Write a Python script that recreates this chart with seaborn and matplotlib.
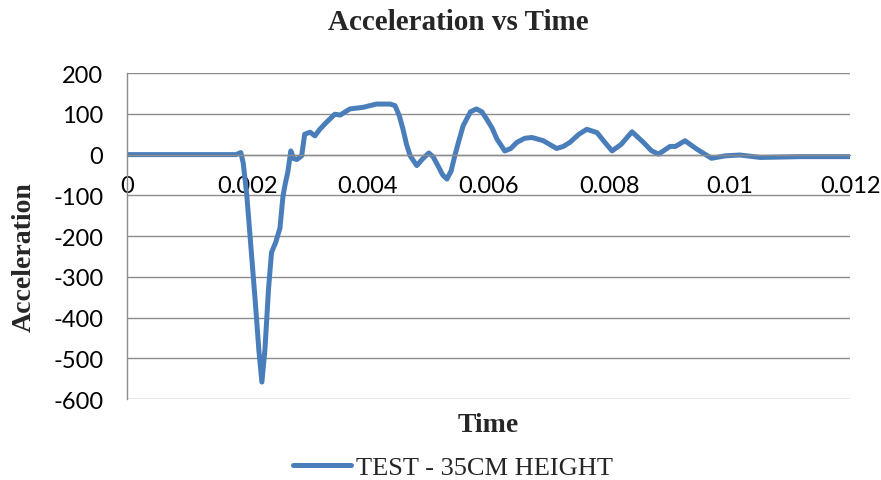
import pandas as pd
import seaborn as sns
import matplotlib.pyplot as plt

# readings taken off the chart
time = [0.0, 0.0010, 0.00175, 0.00181, 0.00186, 0.00189, 0.00193, 0.00199, 0.00206, 0.00213,
        0.00219, 0.00224, 0.00229, 0.00235, 0.00240, 0.00247, 0.00254, 0.00259, 0.00263, 0.00267,
        0.00272, 0.00277, 0.00282, 0.00290, 0.00295, 0.00304, 0.00312, 0.00320, 0.00331, 0.00345,
        0.00354, 0.00370, 0.00392, 0.00414, 0.00437, 0.00445, 0.00452, 0.00458, 0.00464, 0.00470,
        0.00481, 0.00491, 0.00501, 0.00508, 0.00516, 0.00524, 0.00531, 0.00538, 0.00544, 0.00551,
        0.00558, 0.00570, 0.00580, 0.00589, 0.00597, 0.00606, 0.00614, 0.00627, 0.00637, 0.00647,
        0.00660, 0.00672, 0.00691, 0.00713, 0.00724, 0.00735, 0.00750, 0.00763, 0.00780, 0.00793,
        0.00805, 0.00820, 0.00838, 0.00857, 0.00870, 0.00882, 0.00901, 0.00910, 0.00926, 0.00946,
        0.00970, 0.00993, 0.01017, 0.01051, 0.01117, 0.01200]
accel = [0, 0, 0, 0, 3, 5, -20, -100, -230, -360,
         -480, -558, -480, -330, -240, -215, -180, -102, -70, -43,
         9, -10, -12, -3, 50, 55, 46, 62, 79, 99,
         97, 112, 116, 124, 124, 120, 95, 63, 25, -3,
         -27, -10, 4, -5, -27, -50, -60, -40, -3, 35,
         71, 105, 112, 105, 87, 65, 38, 9, 15, 30,
         40, 42, 34, 15, 20, 30, 50, 62, 54, 30,
         9, 25, 56, 30, 10, 1, 20, 20, 34, 13,
         -9, -3, -1, -7, -5, -5]

df = pd.DataFrame({'Time': time, 'Acceleration': accel})

sns.set_style('white')
plt.rcParams['axes.unicode_minus'] = False
fig, ax = plt.subplots(figsize=(8.81, 4.81), dpi=100)
fig.subplots_adjust(left=0.144, right=0.965, top=0.846, bottom=0.168)

sns.lineplot(data=df, x='Time', y='Acceleration', color='#4a7ebb', linewidth=3.6,
             label='TEST - 35CM HEIGHT', ax=ax)

ax.set_xlim(0, 0.012)
ax.set_ylim(-600, 200)
ax.set_yticks(range(-600, 201, 100))
ax.set_xticks([0, 0.002, 0.004, 0.006, 0.008, 0.01, 0.012])
ax.set_xticklabels(['0', '0.002', '0.004', '0.006', '0.008', '0.01', '0.012'])
ax.grid(axis='y', color='#8c8c8c', linewidth=1.0)
ax.set_axisbelow(True)

# x axis sits on zero, as in Excel
ax.spines['bottom'].set_position(('data', 0))
for s in ['top', 'right']:
    ax.spines[s].set_visible(False)
for s in ['left', 'bottom']:
    ax.spines[s].set_color('#8c8c8c')
    ax.spines[s].set_linewidth(1.0)
ax.tick_params(axis='both', direction='out', length=5, color='#8c8c8c',
               labelsize=17, labelcolor='black')
ax.tick_params(axis='x', pad=10)
ax.tick_params(axis='y', pad=12)
for lab in ax.get_xticklabels() + ax.get_yticklabels():
    lab.set_family('Lato')

serif = 'Liberation Serif'
fig.text(0.52, 1 - 22 / 481, 'Acceleration vs Time', fontsize=21, fontweight='bold',
         family=serif, ha='center', va='center')
ax.set_xlabel('Time', fontsize=20, fontweight='bold', family=serif)
ax.xaxis.set_label_coords(0.5, -0.04)
ax.set_ylabel('Acceleration', fontsize=20, fontweight='bold', family=serif)
ax.yaxis.set_label_coords(-0.125, 0.44)

leg = ax.legend(loc='center', bbox_to_anchor=(453 / 881, 1 - 468 / 481),
                bbox_transform=fig.transFigure, frameon=False,
                prop={'family': serif, 'size': 19}, handlelength=2.2, handletextpad=0.2)

fig.savefig('out.png', dpi=100)
